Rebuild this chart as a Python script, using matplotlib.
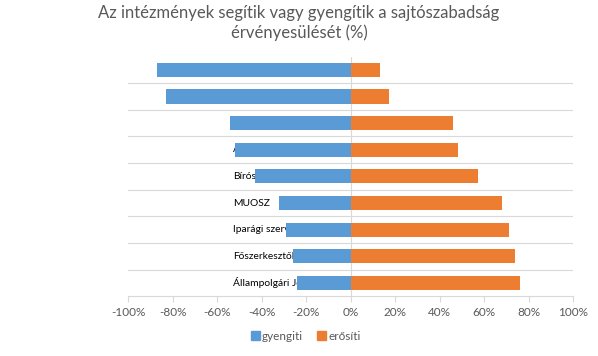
import matplotlib
matplotlib.use('Agg')
import matplotlib.pyplot as plt
from matplotlib.patches import Patch

categories = ["Kormány", "Parlament", "Médiatanács", "Alkotmánybíróság", "Bíróságok",
              "MUOSZ", "Iparági szervezetek", "Főszerkesztők", "Állampolgári Jogok Biztosa"]
gyengiti = [-87, -83, -54, -52, -43, -32, -29, -26, -24]
erositi = [13, 17, 46, 48, 57, 68, 71, 74, 76]
xticks = [-100, -80, -60, -40, -20, 0, 20, 40, 60, 80, 100]
series_names = ["gyengiti", "erősíti"]
title = "Az intézmények segítik vagy gyengítik a sajtószabadság\nérvényesülését (%)"

plt.rcParams['font.family'] = ['Lato', 'DejaVu Sans']

W, H = 598, 356
fig = plt.figure(figsize=(W / 100, H / 100), dpi=100)
ax = fig.add_axes([128 / W, 1 - 296.3 / H, (573.3 - 128) / W, (296.3 - 56.5) / H])

blue = '#5B9BD5'
orange = '#ED7D31'
grid = '#D9D9D9'
txt = '#595959'

y = list(range(len(categories)))
ax.barh(y, gyengiti, height=0.53, color=blue, zorder=3)
ax.barh(y, erositi, height=0.53, color=orange, zorder=3)

ax.set_xlim(-100, 100)
ax.set_ylim(len(categories) - 0.5, -0.5)

for i in range(1, len(categories)):
    ax.axhline(i - 0.5, color=grid, lw=0.8, zorder=0)
ax.axvline(0, color=grid, lw=0.8, zorder=1)

for s in ['top', 'right', 'left']:
    ax.spines[s].set_visible(False)
ax.spines['bottom'].set_color(grid)
ax.spines['bottom'].set_linewidth(0.8)

ax.set_yticks([])
ax.set_xticks(xticks)
ax.set_xticklabels([f"{t}%" for t in xticks])
ax.tick_params(axis='x', colors=grid, labelcolor=txt, labelsize=8.5, length=4, width=0.8, pad=4)

for i, c in enumerate(categories):
    ax.text(-52.9, i, c, ha='left', va='center', fontsize=7.4, color='black', zorder=2)

handles = [Patch(color=blue), Patch(color=orange)]
fig.legend(handles, series_names, loc='center', bbox_to_anchor=(306 / W, 1 - 336 / H), ncol=2,
           frameon=False, handlelength=0.75, handleheight=0.75, handletextpad=0.2,
           columnspacing=1.2, fontsize=8.5, labelcolor=txt)

fig.text(0.5, 1 - 23 / H, title, ha='center', va='center', fontsize=12, color=txt, linespacing=1.2)

fig.savefig('out.png', dpi=100)
